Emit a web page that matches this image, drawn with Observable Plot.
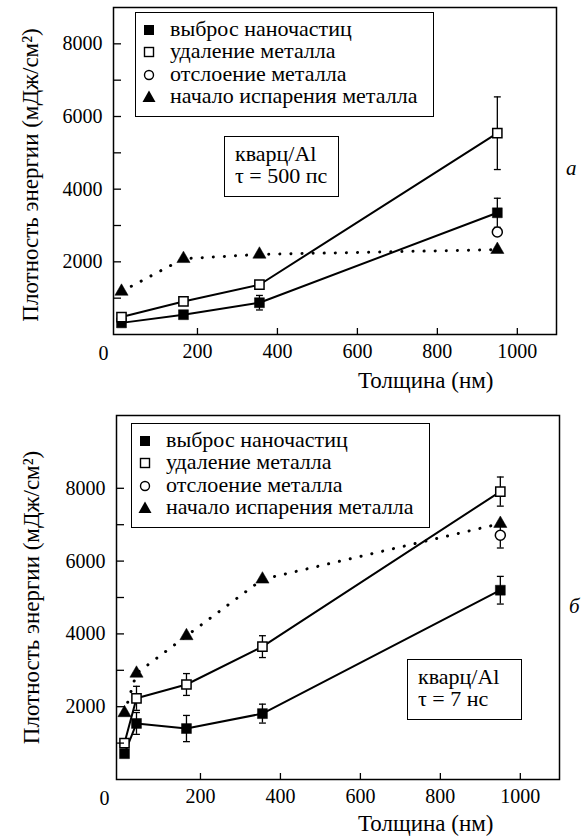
<!DOCTYPE html>
<html><head><meta charset="utf-8">
<script src="https://cdn.jsdelivr.net/npm/d3@7"></script>
<script src="https://cdn.jsdelivr.net/npm/@observablehq/plot@0.6"></script>
<style>
body{margin:0;background:#fff;}
#wrap{position:relative;width:587px;height:836px;font-family:'Liberation Serif',serif;color:#000;overflow:hidden;}
#wrap svg text{font-family:'Liberation Serif',serif;}
.panel{position:absolute;left:0;}
.box{position:absolute;border:1.5px solid #000;background:#fff;box-sizing:border-box;font-family:'Liberation Serif',serif;font-size:22px;line-height:22px;}
.item{position:absolute;left:0;white-space:nowrap;}
.item svg{position:absolute;left:6px;top:4px;}
.item span{position:absolute;left:34px;top:0;font-family:'Liberation Serif',serif;}
.note div{position:absolute;left:10px;white-space:nowrap;line-height:22px;font-family:'Liberation Serif',serif;}
</style></head><body><div id="wrap"></div>
<script>
// ---------- data ----------
const seriesNames = ["выброс наночастиц", "удаление металла", "отслоение металла", "начало испарения металла"];
const xTicks = [200, 400, 600, 800, 1000];
const yTicks = [1000, 2000, 3000, 4000, 5000, 6000, 7000, 8000];
const xLabel = "Толщина (нм)";
const yLabel = "Плотность энергии (мДж/см²)";

// panel а: кварц/Al, τ = 500 пс
const thickA = [10, 165, 355, 950];
const ejectA = [320, 545, 875, 3350];
const ejectErrA = [0, 0, 200, 400];
const removeA = [480, 910, 1370, 5540];
const removeErrA = [100, 0, 0, 1000];
const peelThickA = [950];
const peelA = [2820];
const peelErrA = [0];
const evapA = [1185, 2085, 2205, 2335];

// panel б: кварц/Al, τ = 7 нс
const thickB = [10, 40, 165, 355, 950];
const ejectB = [710, 1540, 1400, 1810, 5200];
const ejectErrB = [0, 300, 360, 260, 380];
const removeB = [1000, 2230, 2610, 3650, 7910];
const removeErrB = [0, 330, 300, 300, 400];
const peelThickB = [950];
const peelB = [6710];
const peelErrB = [350];
const evapB = [1830, 2915, 3945, 5500, 7030];

// ---------- helpers ----------
const FONT = "'Liberation Serif', serif";
const rows = (xs, ys, es) => xs.map((x, i) => ({x, y: ys[i], e: es ? es[i] : 0}));
const errRows = r => r.filter(d => d.e > 0).map(d => ({x: d.x, y1: d.y - d.e, y2: d.y + d.e}));
const cap = {draw(ctx, size) { const w = Math.sqrt(size) / 2; ctx.moveTo(-w, 0); ctx.lineTo(w, 0); }};

function panel(o) {
  const eject = rows(o.thick, o.eject, o.ejectErr);
  const remove = rows(o.thick, o.remove, o.removeErr);
  const peel = rows(o.peelThick, o.peel, o.peelErr);
  const evap = rows(o.thick, o.evap);
  const errs = [...errRows(eject), ...errRows(remove), ...errRows(peel)];
  return Plot.plot({
    width: 587, height: o.height,
    marginLeft: o.ml, marginRight: o.mr, marginTop: o.mt, marginBottom: o.mb,
    style: {fontFamily: FONT, fontSize: "20px", color: "black", background: "white", overflow: "visible"},
    x: {domain: [-10, 1098]},
    y: {domain: o.ydomain},
    marks: [
      Plot.line(evap, {x: "x", y: "y", stroke: "black", strokeWidth: 3, strokeDasharray: "0.1,11", strokeLinecap: "round"}),
      Plot.line(eject, {x: "x", y: "y", stroke: "black", strokeWidth: 2}),
      Plot.line(remove, {x: "x", y: "y", stroke: "black", strokeWidth: 2}),
      Plot.ruleX(errs, {x: "x", y1: "y1", y2: "y2", stroke: "black", strokeWidth: 1.3}),
      Plot.dot(errs, {x: "x", y: "y1", symbol: cap, r: 3.9, stroke: "black", strokeWidth: 1.3}),
      Plot.dot(errs, {x: "x", y: "y2", symbol: cap, r: 3.9, stroke: "black", strokeWidth: 1.3}),
      Plot.dot(evap, {x: "x", y: "y", symbol: "triangle", r: 4.9, fill: "black", stroke: "black", strokeWidth: 0.5}),
      Plot.dot(peel, {x: "x", y: "y", symbol: "circle", r: 5, fill: "white", stroke: "black", strokeWidth: 1.5}),
      Plot.dot(eject, {x: "x", y: "y", symbol: "square", r: 5.6, fill: "black", stroke: "black", strokeWidth: 0.5}),
      Plot.dot(remove, {x: "x", y: "y", symbol: "square", r: 5.2, fill: "white", stroke: "black", strokeWidth: 1.5}),
      Plot.axisX({ticks: xTicks, tickSize: -6, tickPadding: 15, tickFormat: d => String(d), label: null, strokeWidth: 1.3, fontSize: 20}),
      Plot.axisY({ticks: yTicks, tickSize: -8, tickPadding: 19, tickFormat: d => d % 2000 === 0 ? String(d) : "", label: null, strokeWidth: 1.3, fontSize: 20}),
      Plot.text(["0"], {frameAnchor: "bottom-left", dx: o.zeroDx, dy: 19, lineAnchor: "middle", fontSize: 20}),
      Plot.text([xLabel], {frameAnchor: "bottom-right", dx: o.xlDx, dy: o.xlDy, textAnchor: "end", lineAnchor: "middle", fontSize: 23}),
      Plot.text([yLabel], {frameAnchor: "left", dx: o.ylDx, dy: o.ylDy, rotate: -90, textAnchor: "middle", lineAnchor: "middle", fontSize: 23}),
      Plot.text([o.letter], {frameAnchor: "right", dx: 20, dy: o.letterDy, fontStyle: "italic", fontSize: 21, lineAnchor: "middle"}),
      Plot.frame({stroke: "black", strokeWidth: 1.5})
    ]
  });
}

const wrap = document.getElementById("wrap");

function addPanel(top, o, legendPos, notePos, noteLines) {
  const d = document.createElement("div");
  d.className = "panel"; d.style.top = top + "px";
  d.appendChild(panel(o));
  wrap.appendChild(d);
  // legend box
  const lg = document.createElement("div");
  lg.className = "box";
  Object.assign(lg.style, {left: legendPos.left + "px", top: legendPos.top + "px", width: legendPos.w + "px", height: legendPos.h + "px"});
  const syms = [
    '<rect x="2" y="3" width="10" height="10" fill="black"/>',
    '<rect x="2.5" y="3.5" width="9" height="9" fill="white" stroke="black" stroke-width="1.4"/>',
    '<circle cx="7" cy="8" r="4.5" fill="white" stroke="black" stroke-width="1.4"/>',
    '<path d="M7,1.5 L13.5,13 L0.5,13 Z" fill="black"/>'
  ];
  seriesNames.forEach((name, i) => {
    const it = document.createElement("div");
    it.className = "item";
    it.style.top = (5 + i * 22.3) + "px";
    it.innerHTML = `<svg width="15" height="16">${syms[i]}</svg><span>${name}</span>`;
    lg.appendChild(it);
  });
  wrap.appendChild(lg);
  // note box
  const nb = document.createElement("div");
  nb.className = "box note";
  Object.assign(nb.style, {left: notePos.left + "px", top: notePos.top + "px", width: notePos.w + "px", height: notePos.h + "px"});
  noteLines.forEach((t, i) => {
    const l = document.createElement("div");
    l.style.top = (6 + i * 22) + "px";
    l.textContent = t;
    nb.appendChild(l);
  });
  wrap.appendChild(nb);
}

addPanel(0,
  {height: 400, ml: 113, mr: 31, mt: 7, mb: 66, ydomain: [0, 9000],
   thick: thickA, eject: ejectA, ejectErr: ejectErrA, remove: removeA, removeErr: removeErrA,
   peelThick: peelThickA, peel: peelA, peelErr: peelErrA, evap: evapA,
   zeroDx: -15, xlDx: -63, xlDy: 46, ylDx: -83, ylDy: 4, letter: "а", letterDy: -3},
  {left: 135, top: 12, w: 299, h: 105},
  {left: 224, top: 136, w: 115, h: 61},
  ["кварц/Al", "τ = 500 пс"]);

addPanel(400,
  {height: 436, ml: 116, mr: 28, mt: 15, mb: 57, ydomain: [0, 10000],
   thick: thickB, eject: ejectB, ejectErr: ejectErrB, remove: removeB, removeErr: removeErrB,
   peelThick: peelThickB, peel: peelB, peelErr: peelErrB, evap: evapB,
   zeroDx: -17, xlDx: -66, xlDy: 44, ylDx: -85, ylDy: 0, letter: "б", letterDy: 9},
  {left: 131, top: 423, w: 299, h: 105},
  {left: 407, top: 659, w: 115, h: 61},
  ["кварц/Al", "τ = 7 нс"]);
</script>
</body></html>
